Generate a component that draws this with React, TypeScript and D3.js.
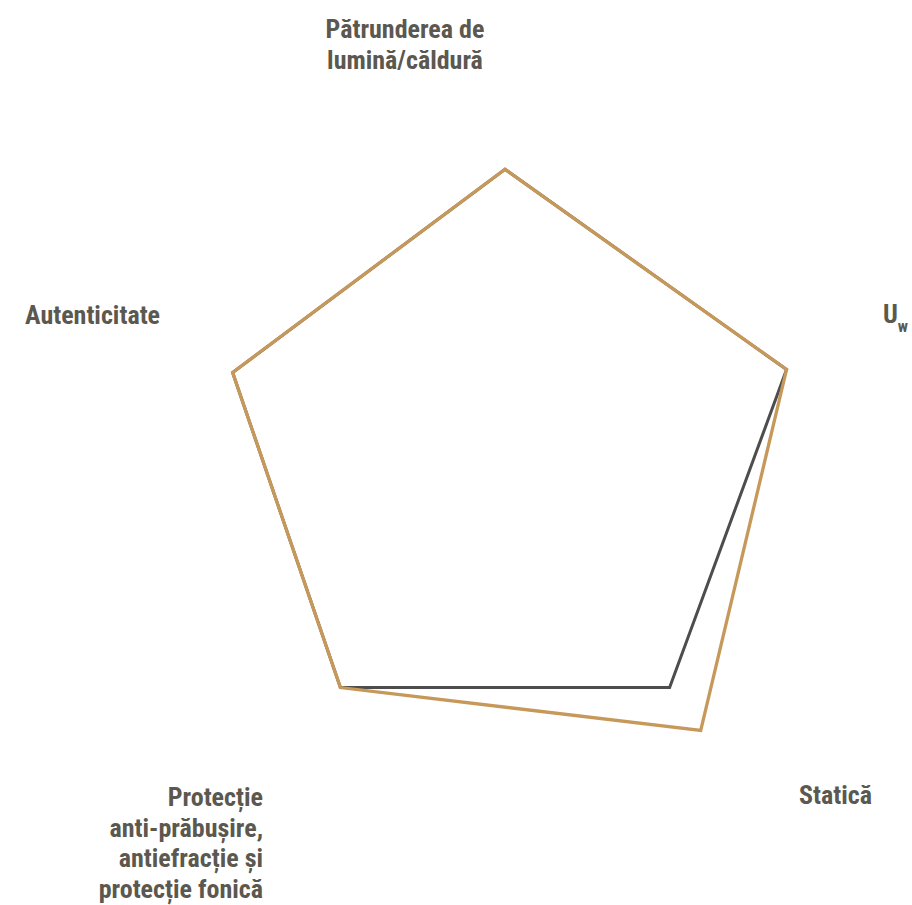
import React, { useRef, useEffect } from 'react';
import * as d3 from 'd3';

// Axes, clockwise from the top
const axisNames = [
  'Pătrunderea de lumină/căldură',
  'Uw',
  'Statică',
  'Protecție anti-prăbușire, antiefracție și protecție fonică',
  'Autenticitate'
];
const axisLabelLines = [
  ['Pătrunderea de', 'lumină/căldură'],
  ['U'],
  ['Statică'],
  ['Protecție', 'anti-prăbușire,', 'antiefracție și', 'protecție fonică'],
  ['Autenticitate']
];
const darkValues = [8.76, 8.89, 8.41, 8.41, 8.6];
const goldValues = [8.76, 8.89, 10, 8.41, 8.6];
const maxValue = 10;

// label placement (x, first baseline, anchor)
const labelPos: { x: number; y: number; anchor: string }[] = [
  { x: 405, y: 38, anchor: 'middle' },
  { x: 883, y: 323, anchor: 'start' },
  { x: 799, y: 804, anchor: 'start' },
  { x: 263, y: 806, anchor: 'end' },
  { x: 25, y: 324, anchor: 'start' }
];

const RadarChart: React.FC<{ width?: number; height?: number }> = ({ width = 912, height = 905 }) => {
  const svgRef = useRef<SVGSVGElement>(null);

  useEffect(() => {
    if (!svgRef.current) return;
    document.body.style.margin = '0';
    const svg = d3.select(svgRef.current);
    svg.selectAll('*').remove();

    const cx = 505;
    const cy = 461;
    const radius = 333;
    const font = '"Roboto Condensed", Roboto, sans-serif';
    const textColor = '#5b5850';

    const rScale = d3.scaleLinear().domain([0, maxValue]).range([0, radius]);
    const angle = d3.scalePoint<string>()
      .domain(axisNames)
      .range([0, (2 * Math.PI * (axisNames.length - 1)) / axisNames.length]);

    const line = d3.lineRadial<number>()
      .angle((_, i) => angle(axisNames[i])!)
      .radius(d => rScale(d))
      .curve(d3.curveLinearClosed);

    const g = svg.append('g').attr('transform', `translate(${cx},${cy})`);

    g.append('path')
      .attr('d', line(darkValues))
      .attr('fill', 'none')
      .attr('stroke', '#4d4d4d')
      .attr('stroke-width', 3)
      .attr('stroke-linejoin', 'miter');

    g.append('path')
      .attr('d', line(goldValues))
      .attr('fill', 'none')
      .attr('stroke', '#c6995a')
      .attr('stroke-width', 3.3)
      .attr('stroke-linejoin', 'miter');

    // Axis labels
    axisLabelLines.forEach((lines, i) => {
      const p = labelPos[i];
      const t = svg.append('text')
        .attr('x', p.x)
        .attr('y', p.y)
        .attr('text-anchor', p.anchor)
        .style('font-family', font)
        .style('font-weight', 700)
        .style('font-size', '26px')
        .style('fill', textColor);
      lines.forEach((l, j) => {
        t.append('tspan')
          .attr('x', p.x)
          .attr('dy', j === 0 ? 0 : 30.5)
          .text(l);
      });
      if (axisNames[i] === 'Uw') {
        t.append('tspan')
          .attr('dy', 9)
          .style('font-size', '16px')
          .text('w');
      }
    });
  }, [width, height]);

  return <svg ref={svgRef} width={width} height={height} style={{ display: 'block', background: '#ffffff' }} />;
};

export default function App() {
  return <RadarChart />;
}
